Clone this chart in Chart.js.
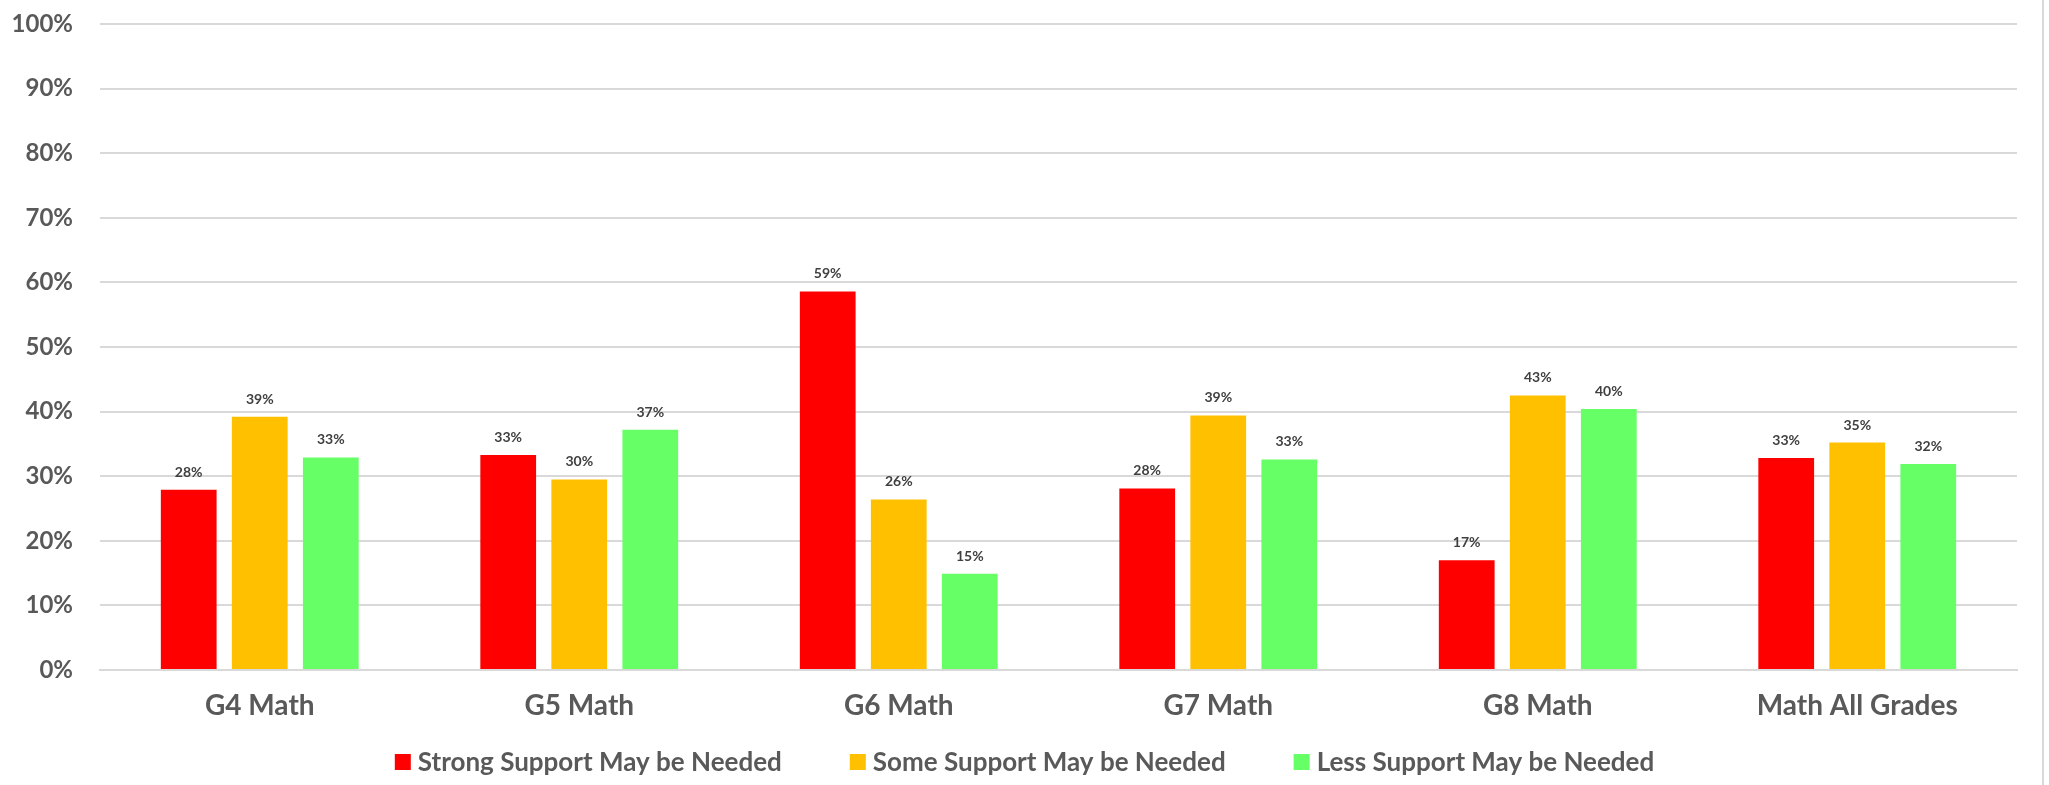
<!DOCTYPE html>
<html>
<head>
<meta charset="utf-8">
<script src="https://cdn.jsdelivr.net/npm/chart.js@4.4.1/dist/chart.umd.min.js"></script>
<style>
  html, body { margin: 0; padding: 0; background: #fff; }
  .wrap { position: relative; width: 2049px; height: 785px; }
  .wrap::after { content: ""; position: absolute; left: 2042px; top: 0; width: 2px; height: 785px; background: #d9d9d9; }
</style>
</head>
<body>
<div class="wrap"><canvas id="chart" width="2049" height="785"></canvas></div>
<script>
// Niveles de apoyo por grado (porcentaje de alumnos)
const grades = ["G4 Math", "G5 Math", "G6 Math", "G7 Math", "G8 Math", "Math All Grades"];
const strongSupport = [27.9, 33.3, 58.6, 28.1, 17.0, 32.8];
const someSupport = [39.2, 29.5, 26.4, 39.4, 42.5, 35.2];
const lessSupport = [32.9, 37.2, 14.9, 32.6, 40.4, 31.9];
const yTicks = [0, 10, 20, 30, 40, 50, 60, 70, 80, 90, 100];

const COLORS = { rojo: "#ff0000", amarillo: "#ffc000", verde: "#66ff66", grid: "#d9d9d9", text: "#595959", label: "#404040" };
const FONT = "Lato, 'Open Sans', sans-serif";

Chart.defaults.font.family = FONT;

// etiquetas de valor encima de cada barra
const barLabels = {
  id: "barLabels",
  afterDatasetsDraw(chart) {
    const ctx = chart.ctx;
    ctx.save();
    ctx.font = `bold 14px ${FONT}`;
    ctx.fillStyle = COLORS.label;
    ctx.textAlign = "center";
    ctx.textBaseline = "alphabetic";
    chart.data.datasets.forEach((ds, i) => {
      chart.getDatasetMeta(i).data.forEach((bar, j) => {
        ctx.fillText(Math.round(ds.data[j]) + "%", bar.x, bar.y - 13);
      });
    });
    ctx.restore();
  },
};

// leyenda propia: cuadro 16px, texto pegado, separacion amplia entre items
const bottomLegend = {
  id: "bottomLegend",
  afterDraw(chart) {
    const ctx = chart.ctx;
    const box = 16, gap = 7, itemGap = 68, y = 762;
    ctx.save();
    ctx.font = `bold 26px ${FONT}`;
    ctx.textBaseline = "middle";
    const items = chart.data.datasets.map((ds) => ({ text: ds.label, color: ds.backgroundColor, w: ctx.measureText(ds.label).width }));
    const total = items.reduce((s, it) => s + box + gap + it.w, 0) + itemGap * (items.length - 1);
    let x = (chart.width - total) / 2;
    items.forEach((it) => {
      ctx.fillStyle = it.color;
      ctx.fillRect(x, y - box / 2, box, box);
      ctx.fillStyle = COLORS.text;
      ctx.fillText(it.text, x + box + gap, y + 1);
      x += box + gap + it.w + itemGap;
    });
    ctx.restore();
  },
};

const dataset = (label, data, color) => ({
  label, data, backgroundColor: color, borderWidth: 0,
  categoryPercentage: 0.667, barPercentage: 0.785,
});

new Chart("chart", {
  type: "bar",
  data: {
    labels: grades,
    datasets: [
      dataset("Strong Support May be Needed", strongSupport, COLORS.rojo),
      dataset("Some Support May be Needed", someSupport, COLORS.amarillo),
      dataset("Less Support May be Needed", lessSupport, COLORS.verde),
    ],
  },
  options: {
    responsive: false,
    animation: false,
    layout: { padding: { top: 24, right: 32, left: 0, bottom: 55 } },
    plugins: {
      tooltip: { enabled: false },
      legend: { display: false },
    },
    scales: {
      x: {
        grid: { display: false, drawTicks: false },
        border: { color: COLORS.grid, width: 2 },
        ticks: { color: COLORS.text, padding: 19, font: { size: 28, weight: "bold" } },
        afterFit: (s) => { s.height = 60; },
      },
      y: {
        min: 0, max: 100,
        afterBuildTicks: (s) => { s.ticks = yTicks.map((v) => ({ value: v })); },
        grid: { color: COLORS.grid, lineWidth: 2, drawTicks: false },
        border: { display: false },
        ticks: { color: COLORS.text, padding: 27, font: { size: 24, weight: "bold" }, callback: (v) => v + "%" },
        // el padding de ticks no debe empujar el area hacia abajo
        afterFit: (s) => { s.width = 100; s.paddingTop = 14; s.paddingBottom = 14; },
      },
    },
  },
  plugins: [barLabels, bottomLegend],
});
</script>
</body>
</html>
